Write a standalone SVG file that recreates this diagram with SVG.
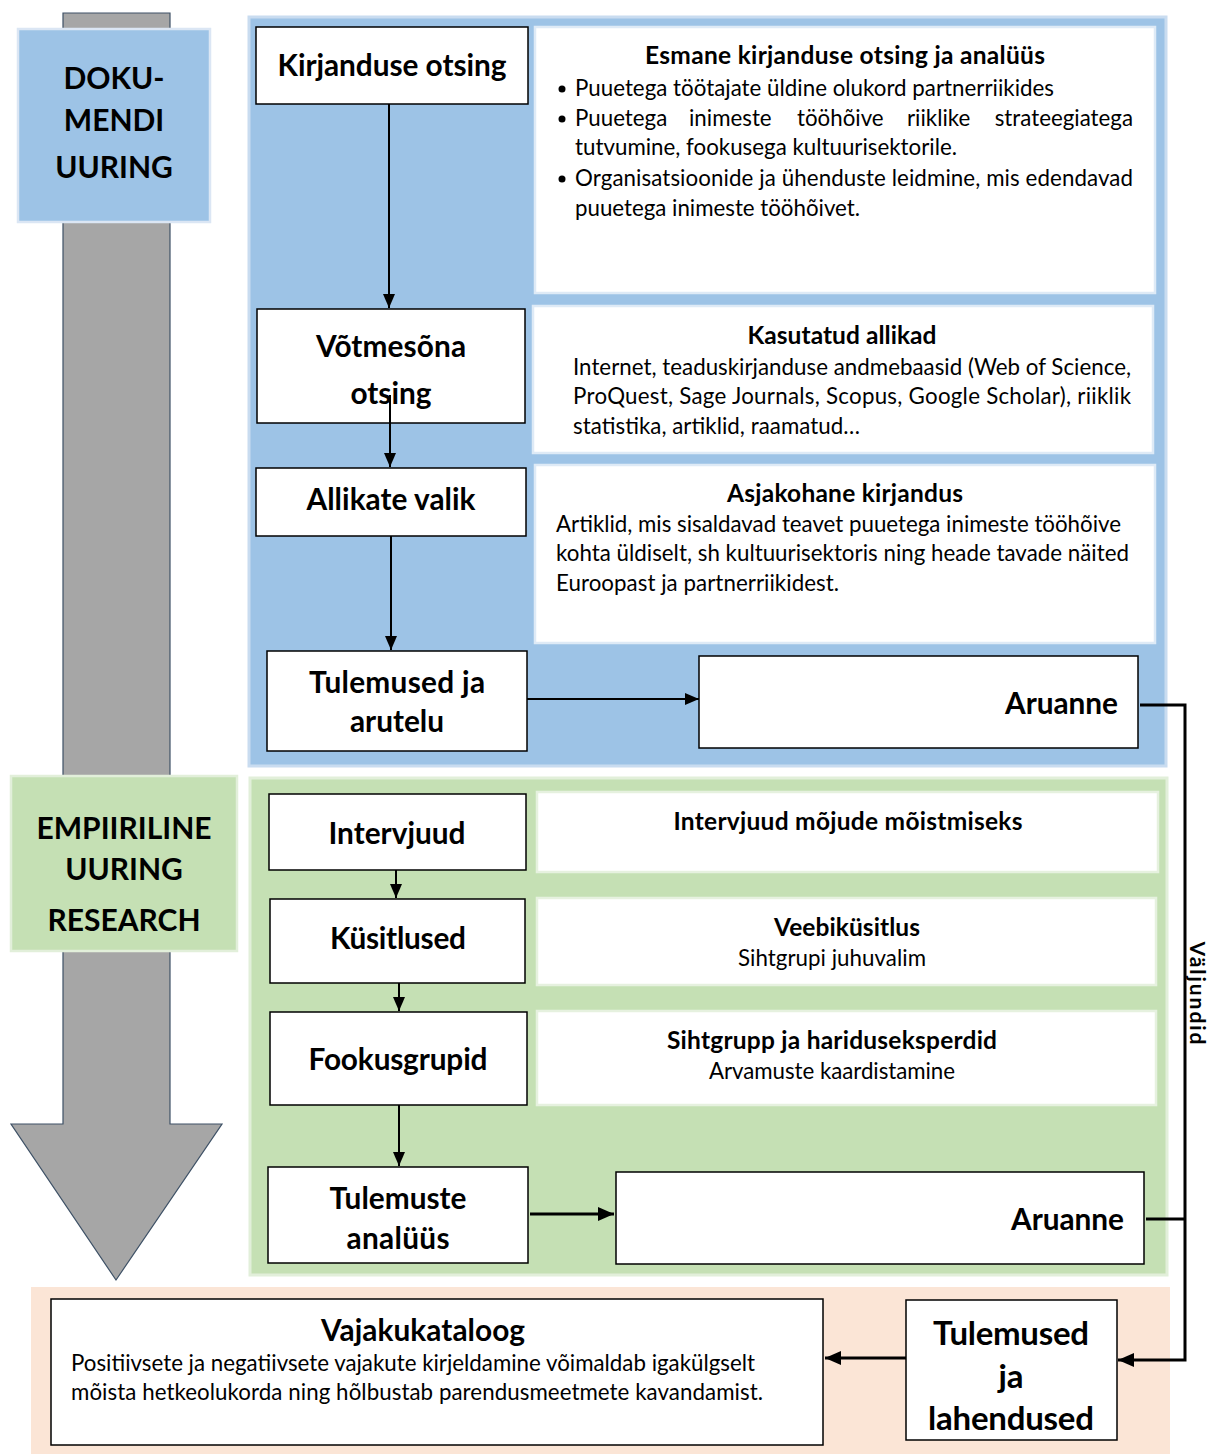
<svg xmlns="http://www.w3.org/2000/svg" width="1213" height="1454" viewBox="0 0 1213 1454">
<style>
text{font-family:Lato,"Open Sans","Liberation Sans",sans-serif;fill:#000}
.b{font-weight:bold}
.node{fill:#fff;stroke:#000;stroke-width:1.5}
.tb{fill:#fff;stroke:#deeaf6;stroke-width:2.5}
.tbg{fill:#fff;stroke:#e6f1df;stroke-width:2.5}
.h{font-size:29.8px;font-weight:bold;text-anchor:middle}
.t{font-size:24.5px;font-weight:bold;text-anchor:middle}
.p{font-size:22.3px}
.lbl{font-size:30px;font-weight:bold;text-anchor:middle}
.c{stroke:#000;stroke-width:2;fill:none}
.c3{stroke:#000;stroke-width:3;fill:none}
</style>
<defs>
<marker id="a" viewBox="0 0 14 12" refX="14" refY="6" markerWidth="14" markerHeight="12" markerUnits="userSpaceOnUse" orient="auto">
<path d="M0,0 L14,6 L0,12 z" fill="#000"/>
</marker>
<marker id="aw" viewBox="0 0 16 14" refX="16" refY="7" markerWidth="16" markerHeight="14" markerUnits="userSpaceOnUse" orient="auto">
<path d="M0,0 L16,7 L0,14 z" fill="#000"/>
</marker>
</defs>
<rect width="1213" height="1454" fill="#fff"/>

<g id="big-arrow">
<path d="M63,13 L170,13 L170,1124 L222,1124 L116,1280 L11,1124 L63,1124 Z" fill="#a6a6a6" stroke="#3e5166" stroke-width="1.2"/>
</g>

<g id="panel-blue"><rect x="249" y="17" width="917" height="749" fill="#9dc3e6" stroke="#c9dcf0" stroke-width="3"/></g>
<g id="panel-green"><rect x="250" y="778" width="917" height="497" fill="#c5e0b4" stroke="#e2efda" stroke-width="3"/></g>
<g id="panel-peach"><rect x="31" y="1287" width="1139" height="167" fill="#fbe5d6"/></g>

<g id="label-doku">
<rect x="18" y="29" width="192" height="193" fill="#9dc3e6" stroke="#dbe6f4" stroke-width="2.5"/>
<text class="lbl" x="114" y="89">DOKU-</text>
<text class="lbl" x="114" y="131">MENDI</text>
<text class="lbl" x="114" y="178">UURING</text>
</g>

<g id="label-empiiriline">
<rect x="11" y="776" width="226" height="175" fill="#c5e0b4" stroke="#e2efda" stroke-width="2.5"/>
<text class="lbl" x="124" y="839">EMPIIRILINE</text>
<text class="lbl" x="124" y="880">UURING</text>
<text class="lbl" x="124" y="931">RESEARCH</text>
</g>

<g id="kirjanduse-otsing">
<rect class="node" x="256" y="27" width="272" height="77"/>
<text class="h" x="392" y="76" textLength="229" lengthAdjust="spacing">Kirjanduse otsing</text>
</g>
<g id="info-esmane">
<rect class="tb" x="535" y="27" width="620" height="266"/>
<text class="t" x="845" y="64" textLength="400" lengthAdjust="spacing">Esmane kirjanduse otsing ja analüüs</text>
<circle cx="562" cy="89" r="3.5" fill="#000"/>
<circle cx="562" cy="119" r="3.5" fill="#000"/>
<circle cx="562" cy="179" r="3.5" fill="#000"/>
<text class="p" x="575" y="96" textLength="479" lengthAdjust="spacing">Puuetega töötajate üldine olukord partnerriikides</text>
<text class="p" y="126"><tspan x="575">Puuetega</tspan><tspan x="689">inimeste</tspan><tspan x="797">tööhõive</tspan><tspan x="907">riiklike</tspan><tspan x="1133" text-anchor="end">strateegiatega</tspan></text>
<text class="p" x="575" y="155" textLength="382" lengthAdjust="spacing">tutvumine, fookusega kultuurisektorile.</text>
<text class="p" x="575" y="186" textLength="558" lengthAdjust="spacing">Organisatsioonide ja ühenduste leidmine, mis edendavad</text>
<text class="p" x="575" y="216" textLength="285" lengthAdjust="spacing">puuetega inimeste tööhõivet.</text>
</g>

<g id="votmesona-otsing">
<rect class="node" x="257" y="309" width="268" height="114"/>
<text class="h" x="391" y="357" textLength="150" lengthAdjust="spacing">Võtmesõna</text>
<text class="h" x="391" y="404">otsing</text>
</g>
<g id="info-allikad">
<rect class="tb" x="533" y="306" width="620" height="147"/>
<text class="t" x="842" y="344" textLength="189" lengthAdjust="spacing">Kasutatud allikad</text>
<text class="p" x="573" y="375" textLength="558" lengthAdjust="spacing">Internet, teaduskirjanduse andmebaasid (Web of Science,</text>
<text class="p" x="573" y="404" textLength="558" lengthAdjust="spacing">ProQuest, Sage Journals, Scopus, Google Scholar), riiklik</text>
<text class="p" x="573" y="434" textLength="287" lengthAdjust="spacing">statistika, artiklid, raamatud…</text>
</g>

<g id="allikate-valik">
<rect class="node" x="256" y="468" width="270" height="68"/>
<text class="h" x="391" y="510" textLength="169" lengthAdjust="spacing">Allikate valik</text>
</g>
<g id="info-asjakohane">
<rect class="tb" x="535" y="465" width="620" height="178"/>
<text class="t" x="845" y="502" textLength="236" lengthAdjust="spacing">Asjakohane kirjandus</text>
<text class="p" x="556" y="532" textLength="565" lengthAdjust="spacing">Artiklid, mis sisaldavad teavet puuetega inimeste tööhõive</text>
<text class="p" x="556" y="561" textLength="573" lengthAdjust="spacing">kohta üldiselt, sh kultuurisektoris ning heade tavade näited</text>
<text class="p" x="556" y="591" textLength="283" lengthAdjust="spacing">Euroopast ja partnerriikidest.</text>
</g>

<g id="tulemused-arutelu">
<rect class="node" x="267" y="651" width="260" height="100"/>
<text class="h" x="397" y="693" textLength="176" lengthAdjust="spacing">Tulemused ja</text>
<text class="h" x="397" y="732">arutelu</text>
</g>
<g id="aruanne-1">
<rect class="node" x="699" y="656" width="439" height="92"/>
<text class="h" x="1118" y="714" style="text-anchor:end" textLength="113" lengthAdjust="spacing">Aruanne</text>
</g>

<g id="intervjuud">
<rect class="node" x="269" y="794" width="257" height="76"/>
<text class="h" x="397" y="844" textLength="137" lengthAdjust="spacing">Intervjuud</text>
</g>
<g id="info-intervjuud">
<rect class="tbg" x="537" y="792" width="621" height="80"/>
<text class="t" x="848" y="830" textLength="349" lengthAdjust="spacing">Intervjuud mõjude mõistmiseks</text>
</g>

<g id="kusitlused">
<rect class="node" x="270" y="899" width="255" height="84"/>
<text class="h" x="398" y="949" textLength="136" lengthAdjust="spacing">Küsitlused</text>
</g>
<g id="info-veebikusitlus">
<rect class="tbg" x="537" y="898" width="619" height="87"/>
<text class="t" x="847" y="936" textLength="146" lengthAdjust="spacing">Veebiküsitlus</text>
<text class="p" x="832" y="966" text-anchor="middle" textLength="188" lengthAdjust="spacing">Sihtgrupi juhuvalim</text>
</g>

<g id="fookusgrupid">
<rect class="node" x="270" y="1012" width="257" height="93"/>
<text class="h" x="398" y="1070" textLength="179" lengthAdjust="spacing">Fookusgrupid</text>
</g>
<g id="info-sihtgrupp">
<rect class="tbg" x="537" y="1011" width="619" height="94"/>
<text class="t" x="832" y="1049" textLength="330" lengthAdjust="spacing">Sihtgrupp ja hariduseksperdid</text>
<text class="p" x="832" y="1079" text-anchor="middle" textLength="246" lengthAdjust="spacing">Arvamuste kaardistamine</text>
</g>

<g id="tulemuste-analuus">
<rect class="node" x="268" y="1167" width="260" height="96"/>
<text class="h" x="398" y="1209" textLength="137" lengthAdjust="spacing">Tulemuste</text>
<text class="h" x="398" y="1249" textLength="103" lengthAdjust="spacing">analüüs</text>
</g>
<g id="aruanne-2">
<rect class="node" x="616" y="1172" width="528" height="92"/>
<text class="h" x="1124" y="1230" style="text-anchor:end" textLength="113" lengthAdjust="spacing">Aruanne</text>
</g>

<g id="vajakukataloog">
<rect class="node" x="51" y="1299" width="772" height="146"/>
<text class="h" x="423" y="1341" textLength="204" lengthAdjust="spacing">Vajakukataloog</text>
<text class="p" x="71" y="1371" textLength="684" lengthAdjust="spacing">Positiivsete ja negatiivsete vajakute kirjeldamine võimaldab igakülgselt</text>
<text class="p" x="71" y="1400" textLength="692" lengthAdjust="spacing">mõista hetkeolukorda ning hõlbustab parendusmeetmete kavandamist.</text>
</g>

<g id="tulemused-lahendused">
<rect class="node" x="906" y="1300" width="211" height="140"/>
<text class="h" x="1011" y="1345" style="font-size:33px" textLength="156" lengthAdjust="spacing">Tulemused</text>
<text class="h" x="1011" y="1388" style="font-size:33px">ja</text>
<text class="h" x="1011" y="1430" style="font-size:33px" textLength="166" lengthAdjust="spacing">lahendused</text>
</g>

<g id="connectors">
<line class="c" x1="389" y1="104" x2="389" y2="308" marker-end="url(#a)"/>
<line class="c" x1="390" y1="395" x2="390" y2="467" marker-end="url(#a)"/>
<line class="c" x1="391" y1="536" x2="391" y2="650" marker-end="url(#a)"/>
<line class="c" x1="527" y1="699" x2="699" y2="699" marker-end="url(#a)"/>
<line class="c" x1="396" y1="870" x2="396" y2="898" marker-end="url(#a)"/>
<line class="c" x1="399" y1="983" x2="399" y2="1011" marker-end="url(#a)"/>
<line class="c" x1="399" y1="1105" x2="399" y2="1166" marker-end="url(#a)"/>
<line class="c3" x1="530" y1="1214" x2="614" y2="1214" marker-end="url(#aw)"/>
<polyline class="c3" points="1140,705 1185,705 1185,1360 1118,1360" marker-end="url(#aw)"/>
<line class="c3" x1="1146" y1="1219" x2="1185" y2="1219"/>
<line class="c3" x1="906" y1="1358" x2="825" y2="1358" marker-end="url(#aw)"/>
<text class="b" transform="translate(1190,993) rotate(90)" text-anchor="middle" style="font-size:21px" textLength="103" lengthAdjust="spacing">Väljundid</text>
</g>
</svg>
